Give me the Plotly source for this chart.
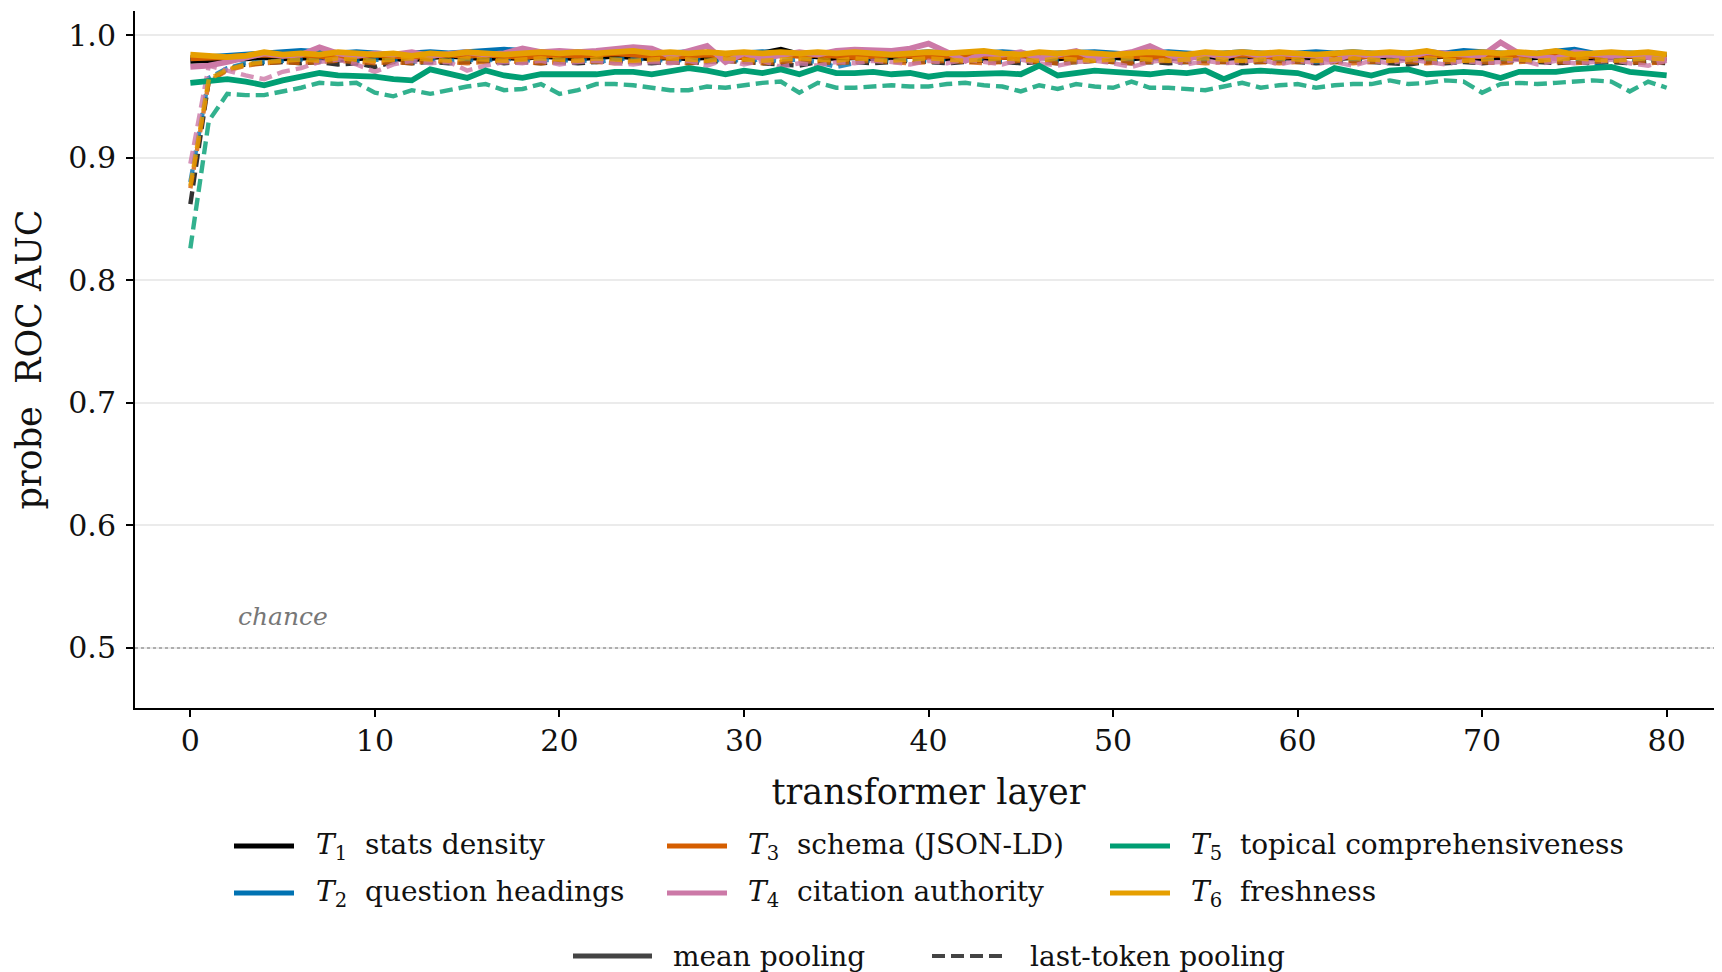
import plotly.graph_objects as go

layers = list(range(81))

names = ["stats density", "question headings", "schema (JSON-LD)",
         "citation authority", "topical comprehensiveness", "freshness"]
colors = ["#000000", "#0072B2", "#D55E00", "#CC79A7", "#009E73", "#E69F00"]
pooling_names = ["mean pooling", "last-token pooling"]

t1_mean = [0.979,0.979,0.980,0.981,0.982,0.981,0.981,0.982,0.980,0.981,
0.982,0.981,0.980,0.982,0.983,0.982,0.981,0.982,0.981,0.983,
0.982,0.981,0.982,0.983,0.982,0.981,0.982,0.981,0.982,0.983,
0.982,0.985,0.988,0.984,0.982,0.981,0.982,0.981,0.982,0.983,
0.982,0.981,0.982,0.981,0.982,0.983,0.982,0.981,0.982,0.983,
0.982,0.981,0.982,0.981,0.982,0.983,0.981,0.982,0.983,0.982,
0.981,0.982,0.981,0.982,0.983,0.982,0.981,0.982,0.983,0.982,
0.981,0.982,0.981,0.982,0.983,0.982,0.981,0.982,0.983,0.982,
0.981]
t2_mean = [0.981,0.982,0.983,0.984,0.985,0.985,0.987,0.986,0.985,0.986,
0.985,0.984,0.985,0.986,0.985,0.986,0.987,0.988,0.987,0.986,
0.985,0.986,0.985,0.986,0.985,0.984,0.985,0.986,0.985,0.984,
0.985,0.986,0.985,0.984,0.985,0.984,0.983,0.985,0.984,0.985,
0.986,0.985,0.984,0.985,0.986,0.985,0.984,0.985,0.986,0.986,
0.985,0.984,0.985,0.986,0.985,0.984,0.985,0.986,0.985,0.984,
0.985,0.986,0.985,0.986,0.985,0.984,0.985,0.986,0.985,0.987,
0.986,0.985,0.984,0.985,0.986,0.988,0.985,0.984,0.985,0.984,
0.983]
t3_mean = [0.981,0.981,0.982,0.983,0.984,0.983,0.984,0.983,0.982,0.983,
0.984,0.983,0.982,0.983,0.984,0.983,0.984,0.983,0.982,0.983,
0.984,0.983,0.984,0.985,0.984,0.983,0.982,0.983,0.984,0.983,
0.982,0.983,0.984,0.983,0.984,0.983,0.982,0.983,0.984,0.983,
0.982,0.983,0.984,0.983,0.982,0.983,0.984,0.983,0.982,0.983,
0.984,0.983,0.982,0.983,0.984,0.985,0.983,0.984,0.983,0.982,
0.983,0.984,0.983,0.982,0.983,0.984,0.983,0.984,0.983,0.982,
0.983,0.984,0.983,0.984,0.983,0.982,0.983,0.984,0.983,0.982,
0.982]
t4_mean = [0.974,0.975,0.978,0.982,0.985,0.983,0.984,0.990,0.985,0.983,
0.985,0.984,0.986,0.983,0.985,0.986,0.984,0.985,0.989,0.986,
0.987,0.986,0.987,0.988,0.990,0.989,0.983,0.987,0.991,0.978,
0.985,0.981,0.984,0.986,0.984,0.987,0.988,0.988,0.987,0.989,
0.993,0.986,0.979,0.985,0.984,0.986,0.981,0.984,0.987,0.981,
0.984,0.986,0.991,0.984,0.980,0.985,0.982,0.986,0.983,0.985,
0.984,0.983,0.979,0.985,0.983,0.984,0.982,0.986,0.985,0.984,
0.983,0.994,0.985,0.983,0.981,0.986,0.985,0.983,0.984,0.982,
0.980]
t5_mean = [0.961,0.963,0.964,0.962,0.959,0.963,0.966,0.969,0.967,0.967,
0.966,0.964,0.963,0.972,0.969,0.965,0.971,0.967,0.965,0.968,
0.968,0.968,0.968,0.970,0.970,0.968,0.970,0.973,0.971,0.968,
0.971,0.969,0.972,0.968,0.973,0.969,0.969,0.970,0.968,0.969,
0.966,0.968,0.968,0.969,0.969,0.968,0.975,0.967,0.969,0.971,
0.970,0.969,0.968,0.970,0.969,0.971,0.964,0.970,0.971,0.970,
0.969,0.965,0.973,0.970,0.967,0.971,0.972,0.968,0.969,0.970,
0.969,0.965,0.970,0.970,0.970,0.972,0.973,0.974,0.970,0.968,
0.967]
t6_mean = [0.984,0.983,0.982,0.983,0.986,0.984,0.985,0.984,0.986,0.985,
0.984,0.985,0.983,0.985,0.984,0.986,0.985,0.984,0.985,0.986,
0.985,0.986,0.985,0.986,0.987,0.985,0.986,0.985,0.986,0.985,
0.986,0.985,0.986,0.985,0.986,0.985,0.986,0.985,0.984,0.985,
0.986,0.985,0.986,0.987,0.985,0.984,0.986,0.985,0.986,0.985,
0.984,0.985,0.986,0.985,0.984,0.986,0.985,0.986,0.985,0.986,
0.985,0.984,0.985,0.986,0.985,0.986,0.985,0.987,0.984,0.985,
0.986,0.985,0.986,0.985,0.987,0.984,0.985,0.986,0.985,0.986,
0.984]

t1_last = [0.862,0.963,0.972,0.976,0.977,0.978,0.977,0.978,0.976,0.977,
0.974,0.978,0.977,0.978,0.977,0.978,0.979,0.977,0.978,0.977,
0.978,0.977,0.978,0.979,0.978,0.977,0.978,0.977,0.978,0.979,
0.978,0.977,0.976,0.975,0.978,0.977,0.978,0.977,0.978,0.979,
0.978,0.977,0.978,0.979,0.978,0.977,0.978,0.977,0.978,0.979,
0.978,0.977,0.978,0.977,0.978,0.979,0.978,0.977,0.978,0.979,
0.978,0.977,0.978,0.979,0.978,0.977,0.976,0.978,0.977,0.978,
0.977,0.978,0.979,0.978,0.977,0.978,0.977,0.978,0.977,0.978,
0.977]
t2_last = [0.880,0.965,0.973,0.977,0.978,0.979,0.980,0.979,0.980,0.979,
0.980,0.979,0.978,0.980,0.979,0.980,0.979,0.981,0.979,0.980,
0.979,0.980,0.978,0.980,0.981,0.980,0.979,0.980,0.979,0.980,
0.979,0.980,0.979,0.980,0.978,0.974,0.977,0.980,0.979,0.980,
0.979,0.980,0.979,0.981,0.979,0.980,0.979,0.980,0.978,0.980,
0.979,0.980,0.979,0.981,0.979,0.980,0.979,0.980,0.979,0.980,
0.979,0.978,0.979,0.980,0.979,0.981,0.979,0.980,0.979,0.980,
0.979,0.980,0.979,0.980,0.979,0.980,0.976,0.979,0.980,0.979,
0.980]
t3_last = [0.875,0.962,0.971,0.975,0.977,0.978,0.977,0.978,0.979,0.978,
0.977,0.978,0.977,0.979,0.978,0.977,0.978,0.979,0.978,0.977,
0.978,0.979,0.978,0.977,0.978,0.979,0.978,0.977,0.978,0.979,
0.978,0.977,0.978,0.979,0.978,0.977,0.978,0.979,0.978,0.977,
0.978,0.979,0.978,0.977,0.978,0.979,0.978,0.977,0.978,0.979,
0.978,0.977,0.978,0.979,0.978,0.977,0.978,0.979,0.978,0.977,
0.978,0.979,0.978,0.977,0.978,0.979,0.978,0.977,0.978,0.979,
0.978,0.977,0.978,0.979,0.978,0.977,0.978,0.979,0.978,0.977,
0.978]
t4_last = [0.895,0.975,0.971,0.967,0.964,0.970,0.973,0.978,0.980,0.976,
0.970,0.976,0.979,0.977,0.978,0.971,0.975,0.978,0.977,0.979,
0.976,0.978,0.979,0.977,0.976,0.978,0.977,0.979,0.975,0.980,
0.976,0.979,0.974,0.977,0.975,0.978,0.977,0.979,0.978,0.976,
0.979,0.977,0.980,0.978,0.976,0.980,0.977,0.975,0.978,0.979,
0.977,0.974,0.978,0.980,0.976,0.979,0.977,0.978,0.980,0.976,
0.979,0.977,0.978,0.975,0.979,0.977,0.980,0.978,0.976,0.979,
0.977,0.978,0.980,0.976,0.979,0.977,0.978,0.980,0.977,0.975,
0.979]
t5_last = [0.826,0.930,0.952,0.951,0.951,0.954,0.957,0.961,0.960,0.961,
0.953,0.950,0.955,0.952,0.955,0.958,0.960,0.955,0.956,0.960,
0.952,0.955,0.960,0.960,0.959,0.957,0.955,0.955,0.958,0.957,
0.959,0.961,0.962,0.953,0.961,0.957,0.957,0.958,0.959,0.958,
0.958,0.960,0.961,0.959,0.958,0.954,0.959,0.956,0.960,0.958,
0.957,0.962,0.957,0.957,0.956,0.955,0.958,0.961,0.957,0.959,
0.960,0.957,0.959,0.960,0.960,0.963,0.960,0.961,0.963,0.962,
0.953,0.960,0.961,0.960,0.961,0.962,0.963,0.962,0.954,0.962,
0.957]
t6_last = [0.877,0.964,0.972,0.976,0.978,0.979,0.980,0.979,0.981,0.980,
0.979,0.980,0.981,0.980,0.979,0.981,0.980,0.979,0.980,0.981,
0.980,0.979,0.981,0.980,0.979,0.980,0.981,0.980,0.979,0.981,
0.980,0.979,0.980,0.981,0.980,0.979,0.981,0.980,0.979,0.980,
0.981,0.980,0.979,0.980,0.981,0.980,0.979,0.981,0.980,0.979,
0.980,0.981,0.980,0.979,0.980,0.981,0.980,0.979,0.980,0.981,
0.980,0.979,0.980,0.981,0.980,0.979,0.980,0.981,0.980,0.979,
0.980,0.981,0.980,0.979,0.980,0.981,0.980,0.979,0.980,0.981,
0.980]

mean_series = [t1_mean, t2_mean, t3_mean, t4_mean, t5_mean, t6_mean]
last_series = [t1_last, t2_last, t3_last, t4_last, t5_last, t6_last]

FONT = "DejaVu Serif"
NB = "\u00a0"
W, H = 1722, 972
OFF = 8  # page body offset in the screenshot
ML, MT = 135 - OFF, 11 - OFF
MR = OFF
MB = H - (708 - OFF)
PW = W - ML - MR
PH = H - MT - MB
SOLID_W = 5.8
DASH_W = 4.4
DASH = "13px,6px"

def px_x(px):
    return (px - OFF - ML) / PW

def px_y(py):
    return (H - MB - (py - OFF)) / PH

fig = go.Figure()

for i in range(6):
    fig.add_trace(go.Scatter(
        x=layers, y=last_series[i], mode="lines",
        line=dict(color=colors[i], width=DASH_W, dash=DASH),
        opacity=0.8, showlegend=False, hoverinfo="skip"))
    fig.add_trace(go.Scatter(
        x=layers, y=mean_series[i], mode="lines",
        line=dict(color=colors[i], width=SOLID_W),
        name=names[i], showlegend=False))

# chance reference line
fig.add_shape(type="line", xref="paper", x0=0, x1=1, yref="y", y0=0.5, y1=0.5,
              line=dict(color="#9a9a9a", width=1.4, dash="dot"), layer="above")
fig.add_annotation(x=2.5, y=0.5, xref="x", yref="y", yshift=31,
                   text="<i>chance</i>", showarrow=False, xanchor="left",
                   yanchor="middle", font=dict(family=FONT, size=25, color="#777777"))

# legend (drawn in the bottom margin)
col_line = [(234, 294), (667, 727), (1110, 1170)]
col_text = [314, 746, 1189]
row_y = [846, 893]
for i in range(6):
    c, r = i // 2, i % 2
    x0, x1 = col_line[c]
    y = row_y[r]
    fig.add_shape(type="line", xref="paper", yref="paper",
                  x0=px_x(x0), x1=px_x(x1), y0=px_y(y), y1=px_y(y),
                  line=dict(color=colors[i], width=5))
    fig.add_annotation(xref="paper", yref="paper", x=px_x(col_text[c]), y=px_y(y),
                       text=f"<i>T</i><sub>{i+1}</sub>{NB}{NB}{names[i]}",
                       showarrow=False, xanchor="left", yanchor="middle",
                       font=dict(family=FONT, size=28, color="#111111"))

pool_line = [(573, 652), (932, 1006)]
pool_text = [671, 1028]
pool_dash = ["solid", DASH]
for j in range(2):
    x0, x1 = pool_line[j]
    fig.add_shape(type="line", xref="paper", yref="paper",
                  x0=px_x(x0), x1=px_x(x1), y0=px_y(956), y1=px_y(956),
                  line=dict(color="#444444", width=5 if j == 0 else 4, dash=pool_dash[j]))
    fig.add_annotation(xref="paper", yref="paper", x=px_x(pool_text[j]), y=px_y(956),
                       text=pooling_names[j], showarrow=False, xanchor="left",
                       yanchor="middle", font=dict(family=FONT, size=28, color="#111111"))

fig.update_layout(
    width=W, height=H,
    margin=dict(l=ML, r=MR, t=MT, b=MB, pad=0, autoexpand=False),
    paper_bgcolor="white", plot_bgcolor="white",
    font=dict(family=FONT, size=30, color="#111111"),
    showlegend=False,
    xaxis=dict(range=[-3, 83], tickvals=[0, 10, 20, 30, 40, 50, 60, 70, 80],
               ticks="outside", ticklen=7, tickwidth=1.5, tickcolor="#000",
               showline=True, linecolor="#000", linewidth=2, showgrid=False,
               zeroline=False, automargin=False, ticklabelstandoff=-2,
               tickfont=dict(family=FONT, size=30, color="#111"),
               title=dict(text="transformer layer", standoff=22,
                          font=dict(family=FONT, size=35, color="#111"))),
    yaxis=dict(range=[0.451, 1.0196], tickvals=[0.5, 0.6, 0.7, 0.8, 0.9, 1.0],
               ticktext=["0.5", "0.6", "0.7", "0.8", "0.9", "1.0"],
               ticks="outside", ticklen=7, tickwidth=1.5, tickcolor="#000",
               showline=True, linecolor="#000", linewidth=2,
               showgrid=True, gridcolor="#ebebeb", gridwidth=1.5,
               zeroline=False, automargin=False, ticklabelstandoff=4,
               tickfont=dict(family=FONT, size=30, color="#111"),
               title=dict(text="probe\u00a0\u00a0ROC AUC", standoff=16,
                          font=dict(family=FONT, size=35, color="#111"))),
)

fig.write_html("out.html")
